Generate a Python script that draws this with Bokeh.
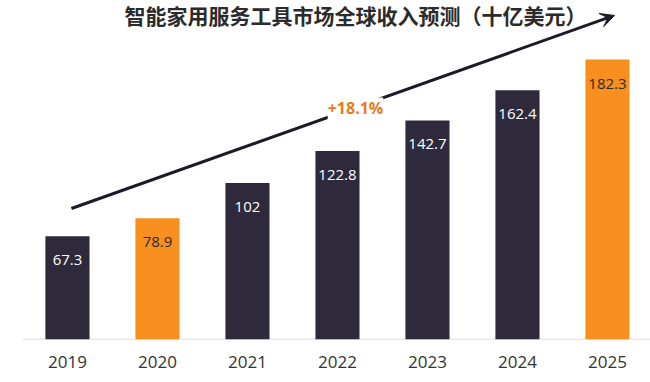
from bokeh.plotting import figure
from bokeh.models import ColumnDataSource, Range1d, FixedTicker, LabelSet, Label, Arrow, VeeHead
from bokeh.core.properties import value
from bokeh.embed import file_html
from bokeh.resources import INLINE

# ---- data ----
years = ["2019", "2020", "2021", "2022", "2023", "2024", "2025"]
revenue = [67.3, 78.9, 102, 122.8, 142.7, 162.4, 182.3]
labels = ["67.3", "78.9", "102", "122.8", "142.7", "162.4", "182.3"]
highlight = [False, True, False, False, False, False, True]
title_text = "智能家用服务工具市场全球收入预测（十亿美元）"
cagr_text = "+18.1%"

DARK = "#2e2a3b"
ORANGE = "#f7901e"

xs = list(range(len(years)))
src = ColumnDataSource(dict(
    x=xs,
    top=revenue,
    label=labels,
    color=[ORANGE if h else DARK for h in highlight],
    tcolor=["#2b2b2b" if h else "#ffffff" for h in highlight],
))

p = figure(width=650, height=382, output_backend="svg", toolbar_location=None,
           x_range=Range1d(-0.744, 6.478), y_range=Range1d(0, 220.8),
           y_axis_location=None, min_border_left=0, min_border_right=0,
           min_border_top=0, min_border_bottom=43)
p.outline_line_color = None
p.xgrid.visible = False
p.ygrid.visible = False
p.background_fill_color = "white"
p.border_fill_color = "white"

# baseline
p.segment(x0=[-0.5], y0=[0], x1=[6.478], y1=[0], line_color="#d4d4d4", line_width=1.5)

p.vbar(x="x", top="top", width=0.49, bottom=0, source=src,
       fill_color="color", line_color=None)

p.add_layout(LabelSet(x="x", y="top", text="label", source=src, y_offset=-24,
                      text_align="center", text_baseline="middle",
                      text_color="tcolor", text_font=value("Open Sans"),
                      text_font_size="15px"))

ax = p.xaxis[0]
ax.ticker = FixedTicker(ticks=xs)
ax.major_label_overrides = {i: y for i, y in zip(xs, years)}
ax.axis_line_color = None
ax.major_tick_line_color = None
ax.minor_tick_line_color = None
ax.major_tick_out = 0
ax.major_tick_in = 0
ax.major_label_standoff = 16
ax.major_label_text_font = "Open Sans"
ax.major_label_text_font_size = "17px"
ax.major_label_text_color = "#333333"

# trend arrow
p.add_layout(Arrow(x_start=0.044, y_start=85.3, x_end=6.078, y_end=211.1,
                   line_color="#1c1a26", line_width=3,
                   end=VeeHead(size=14, fill_color="#1c1a26", line_color="#1c1a26")))

p.add_layout(Label(x=3.2, y=150.5, text=cagr_text, text_align="center", text_baseline="middle",
                   text_color="#e37d22", text_font="Open Sans", text_font_style="bold",
                   text_font_size="16px", background_fill_color="white"))

p.add_layout(Label(x=3.2, y=211.1, text=title_text, text_align="center", text_baseline="middle",
                   text_color="#2b2b2b", text_font="Noto Sans CJK SC", text_font_style="bold",
                   text_font_size="21px"))

open("out.html", "w").write(file_html(p, INLINE))
